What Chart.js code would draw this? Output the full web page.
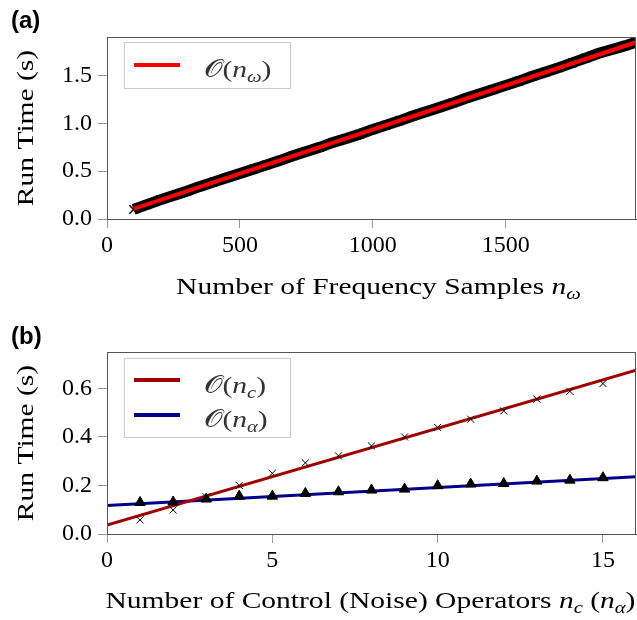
<!DOCTYPE html>
<html>
<head>
<meta charset="utf-8">
<script src="https://cdn.jsdelivr.net/npm/chart.js@4.4.0/dist/chart.umd.min.js"></script>
<style>
  body { margin: 0; background: #fff; }
  canvas { position: absolute; left: 0; }
  #chartA { top: 0; }
  #chartB { top: 310px; }
</style>
</head>
<body>
<canvas id="chartA" width="637" height="310"></canvas>
<canvas id="chartB" width="637" height="310"></canvas>
<script>
// panel (a): run time vs number of frequency samples
let aSamples = [100, 150, 200, 250, 300, 350, 400, 450, 500, 550, 600, 650, 700, 750, 800, 850, 900, 950,
  1000, 1050, 1100, 1150, 1200, 1250, 1300, 1350, 1400, 1450, 1500, 1550, 1600, 1650, 1700, 1750, 1800,
  1850, 1900, 1950, 1990];
let aRunTime = [0.10, 0.15, 0.20, 0.245, 0.29, 0.34, 0.385, 0.43, 0.475, 0.52, 0.565, 0.61, 0.66, 0.705,
  0.748, 0.80, 0.84, 0.885, 0.935, 0.98, 1.025, 1.075, 1.12, 1.165, 1.21, 1.26, 1.305, 1.35, 1.395, 1.44,
  1.49, 1.535, 1.58, 1.63, 1.68, 1.73, 1.77, 1.81, 1.845];
let aFitX = [100, 1990];
let aFitY = [0.105, 1.845];
let aXTicks = [0, 500, 1000, 1500];
let aYTicks = [0, 0.5, 1.0, 1.5];

// panel (b): run time vs number of control / noise operators
let bOps = [1, 2, 3, 4, 5, 6, 7, 8, 9, 10, 11, 12, 13, 14, 15];
let bControl = [0.058, 0.099, 0.153, 0.20, 0.25, 0.293, 0.322, 0.363, 0.40, 0.439, 0.473, 0.507, 0.556, 0.588, 0.62];
let bNoise = [0.13, 0.132, 0.144, 0.156, 0.156, 0.167, 0.174, 0.181, 0.185, 0.199, 0.206, 0.208, 0.218, 0.222, 0.232];
let bFitX = [0, 16];
let bFitControl = [0.037, 0.675];
let bFitNoise = [0.117, 0.236];
let bXTicks = [0, 5, 10, 15];
let bYTicks = [0, 0.2, 0.4, 0.6];

const SERIF = '"Liberation Serif", "DejaVu Serif", serif';
const FS = 24;
const WIDEN = 1.23; // computer-modern is wider than Times

function pts(xs, ys) {
  return xs.map((x, i) => ({ x: x, y: ys[i] }));
}

// draw a run of text pieces, some italic, some as subscripts
function rich(ctx, segs, x, y, size, align) {
  let w = 0;
  segs.forEach(s => {
    ctx.font = (s.i ? 'italic ' : '') + (s.sub ? size * 0.7 : size) + 'px ' + SERIF;
    s.w = ctx.measureText(s.t).width;
    w += s.w;
  });
  let start = align === 'center' ? x - w * WIDEN / 2 : x;
  ctx.save();
  ctx.translate(start, y);
  ctx.scale(WIDEN, 1);
  ctx.textAlign = 'left';
  ctx.textBaseline = 'alphabetic';
  let cx = 0;
  segs.forEach(s => {
    ctx.font = (s.i ? 'italic ' : '') + (s.sub ? size * 0.7 : size) + 'px ' + SERIF;
    ctx.fillText(s.t, cx, s.sub ? size * 0.22 : 0);
    cx += s.w;
  });
  ctx.restore();
}

function decor(opts) {
  return {
    id: 'decor',
    afterDraw(chart) {
      const ctx = chart.ctx;
      const a = chart.chartArea;
      ctx.save();
      // frame
      ctx.strokeStyle = '#555';
      ctx.lineWidth = 1;
      ctx.strokeRect(Math.round(a.left) + 0.5, Math.round(a.top) + 0.5,
        Math.round(a.right - a.left) - 1, Math.round(a.bottom - a.top));
      // panel letter
      ctx.fillStyle = '#000';
      ctx.font = 'bold 24px "Liberation Sans", Arial, sans-serif';
      ctx.textAlign = 'left';
      ctx.textBaseline = 'alphabetic';
      ctx.fillText(opts.letter, 11, opts.letterY);
      // axis titles
      rich(ctx, opts.xTitle, (a.left + a.right) / 2 + opts.xTitleShift, opts.xTitleY, FS, 'center');
      ctx.save();
      ctx.translate(33, (a.top + a.bottom) / 2);
      ctx.rotate(-Math.PI / 2);
      rich(ctx, [{ t: 'Run Time (s)' }], 0, 0, FS, 'center');
      ctx.restore();
      // legend
      const L = opts.legend;
      ctx.fillStyle = '#fff';
      ctx.fillRect(L.x, L.y, L.w, L.h);
      ctx.strokeStyle = '#ccc';
      ctx.lineWidth = 1;
      ctx.strokeRect(L.x + 0.5, L.y + 0.5, L.w, L.h);
      L.items.forEach(it => {
        ctx.strokeStyle = it.color;
        ctx.lineWidth = it.width;
        ctx.beginPath();
        ctx.moveTo(L.x + 10, it.lineY);
        ctx.lineTo(L.x + 56, it.lineY);
        ctx.stroke();
        ctx.fillStyle = '#333';
        rich(ctx, it.label, L.x + 80, it.textY, FS, 'left');
      });
      ctx.restore();
    }
  };
}

function axes(xTicks, yTicks, xMin, xMax, yMax, leftW, bottomH, yFmt) {
  const tickFont = { family: SERIF, size: FS };
  return {
    x: {
      type: 'linear', min: xMin, max: xMax,
      afterBuildTicks: s => { s.ticks = xTicks.map(v => ({ value: v })); },
      afterFit: s => { s.height = bottomH; s.paddingLeft = 0; s.paddingRight = 0; },
      grid: { drawOnChartArea: false, drawTicks: true, tickLength: 9, color: '#999' },
      border: { display: true, color: '#555' },
      ticks: { font: tickFont, color: '#000', padding: 3, maxRotation: 0, callback: v => String(v) }
    },
    y: {
      type: 'linear', min: 0, max: yMax,
      afterBuildTicks: s => { s.ticks = yTicks.map(v => ({ value: v })); },
      afterFit: s => { s.width = leftW; s.paddingTop = 0; s.paddingBottom = 0; },
      grid: { drawOnChartArea: false, drawTicks: true, tickLength: 9, color: '#999' },
      border: { display: true, color: '#555' },
      ticks: { font: tickFont, color: '#000', padding: 6, callback: yFmt }
    }
  };
}

const common = {
  responsive: false,
  animation: false,
  devicePixelRatio: 1,
  plugins: { legend: { display: false }, tooltip: { enabled: false } }
};

new Chart(document.getElementById('chartA').getContext('2d'), {
  type: 'scatter',
  data: {
    datasets: [
      {
        data: pts(aSamples, aRunTime), showLine: true, borderColor: '#000', borderWidth: 11,
        pointStyle: 'crossRot', pointRadius: 6, pointBorderWidth: 1.5, pointBorderColor: '#000',
        order: 2
      },
      {
        data: pts(aFitX, aFitY), showLine: true, borderColor: '#ff0000', borderWidth: 4,
        pointRadius: 0, order: 1
      }
    ]
  },
  options: Object.assign({}, common, {
    layout: { autoPadding: false, padding: { top: 37, right: 1, left: 0, bottom: 0 } },
    scales: axes(aXTicks, aYTicks, 0, 1990, 1.9, 107, 91, v => v.toFixed(1))
  }),
  plugins: [decor({
    letter: '(a)', letterY: 28, xTitleY: 294, xTitleShift: 7,
    xTitle: [{ t: 'Number of Frequency Samples ' }, { t: 'n', i: true }, { t: 'ω', i: true, sub: true }],
    legend: {
      x: 124, y: 42, w: 166, h: 46,
      items: [{
        color: '#ff0000', width: 4, lineY: 65, textY: 77,
        label: [{ t: '𝒪' }, { t: '(' }, { t: 'n', i: true }, { t: 'ω', i: true, sub: true }, { t: ')' }]
      }]
    }
  })]
});

new Chart(document.getElementById('chartB').getContext('2d'), {
  type: 'scatter',
  data: {
    datasets: [
      {
        data: pts(bFitX, bFitControl), showLine: true, borderColor: '#a00000', borderWidth: 3,
        pointRadius: 0, order: 3
      },
      {
        data: pts(bFitX, bFitNoise), showLine: true, borderColor: '#00008b', borderWidth: 3,
        pointRadius: 0, order: 3
      },
      {
        data: pts(bOps, bControl), pointStyle: 'crossRot', pointRadius: 5, borderColor: '#000',
        borderWidth: 1, order: 1
      },
      {
        data: pts(bOps, bNoise), pointStyle: 'triangle', pointRadius: 6, backgroundColor: '#000',
        borderColor: '#000', borderWidth: 1, order: 2
      }
    ]
  },
  options: Object.assign({}, common, {
    layout: { autoPadding: false, padding: { top: 42, right: 1, left: 0, bottom: 0 } },
    scales: axes(bXTicks, bYTicks, 0, 16, 0.75, 107, 86, v => v.toFixed(1))
  }),
  plugins: [decor({
    letter: '(b)', letterY: 34, xTitleY: 298, xTitleShift: -1,
    xTitle: [{ t: 'Number of Control (Noise) Operators ' }, { t: 'n', i: true }, { t: 'c', i: true, sub: true },
      { t: ' (' }, { t: 'n', i: true }, { t: 'α', i: true, sub: true }, { t: ')' }],
    legend: {
      x: 124, y: 48, w: 166, h: 79,
      items: [
        {
          color: '#a00000', width: 4, lineY: 70, textY: 83,
          label: [{ t: '𝒪' }, { t: '(' }, { t: 'n', i: true }, { t: 'c', i: true, sub: true }, { t: ')' }]
        },
        {
          color: '#00008b', width: 4, lineY: 105, textY: 117,
          label: [{ t: '𝒪' }, { t: '(' }, { t: 'n', i: true }, { t: 'α', i: true, sub: true }, { t: ')' }]
        }
      ]
    }
  })]
});
</script>
</body>
</html>
